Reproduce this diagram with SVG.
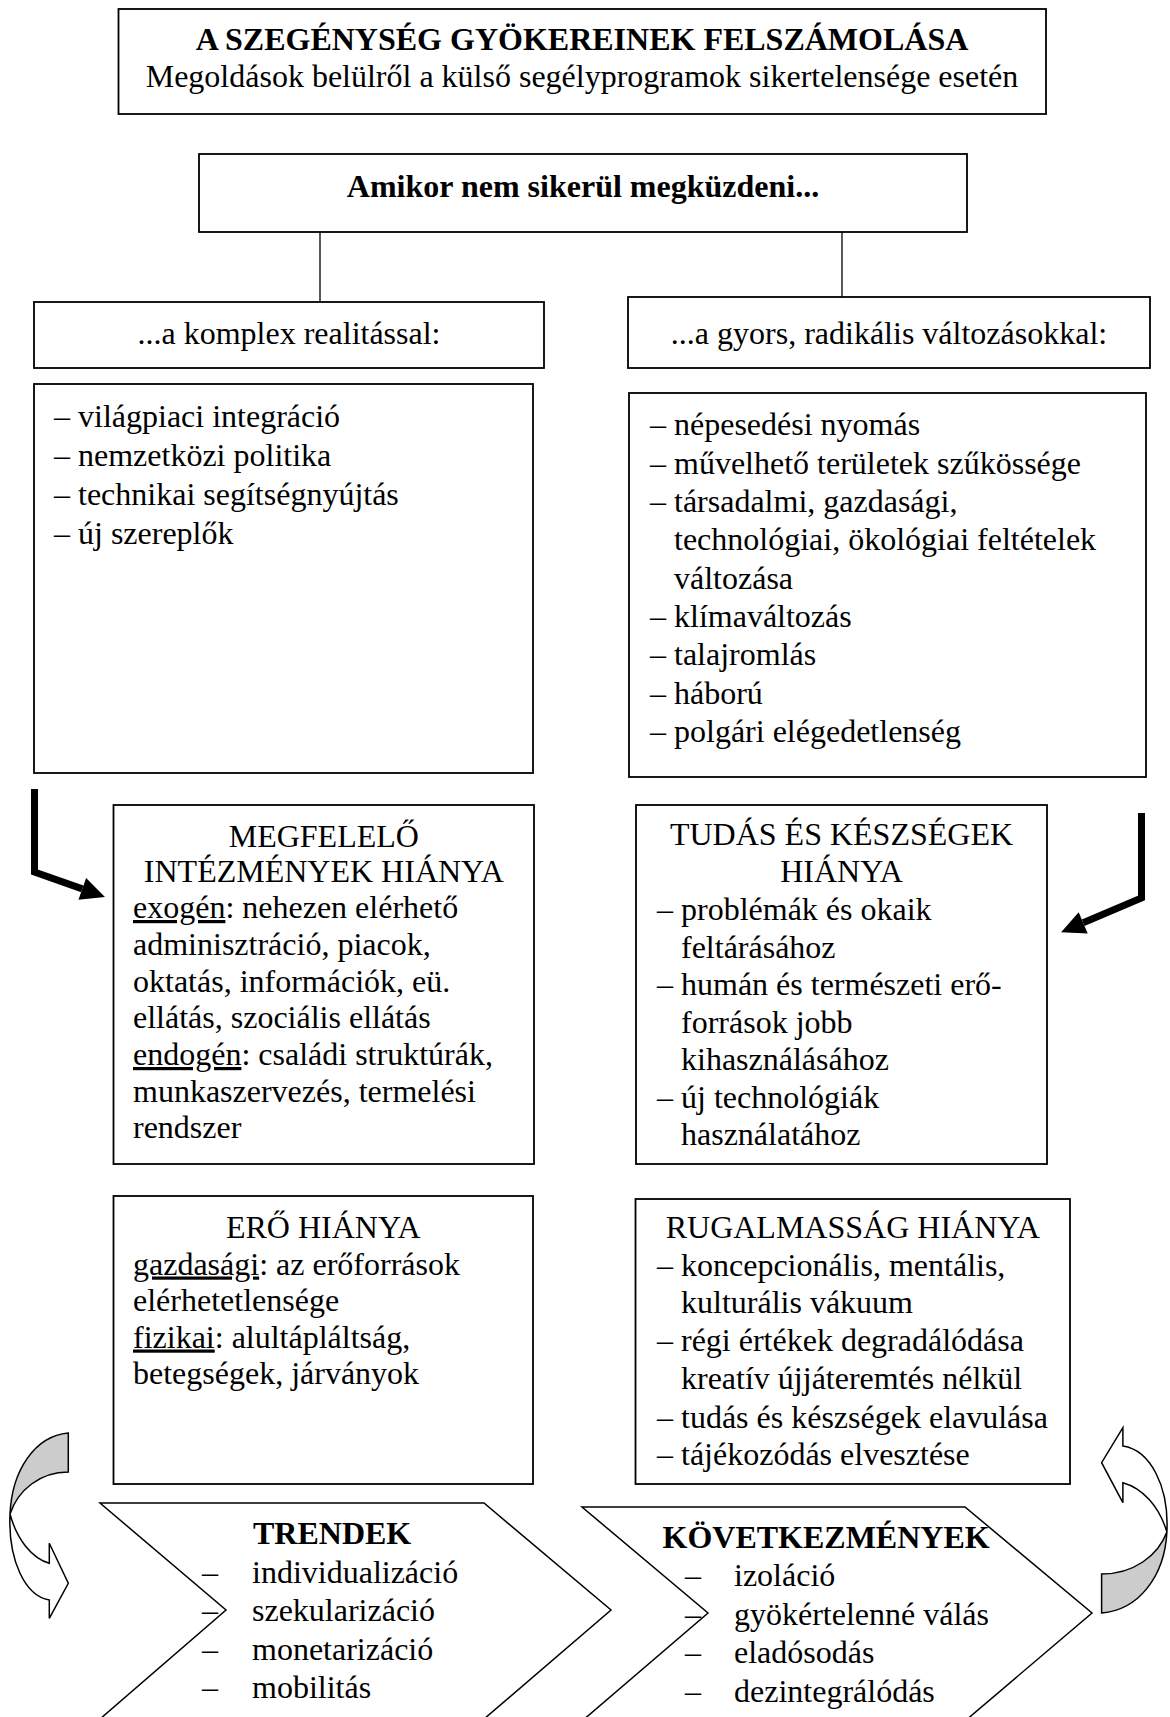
<svg xmlns="http://www.w3.org/2000/svg" xmlns:xlink="http://www.w3.org/1999/xlink" width="1170" height="1717" viewBox="0 0 1170 1717">
<style>
.t{font-family:"Liberation Serif","Times New Roman",serif;font-size:32px;fill:#000}
.b{font-weight:bold}
.c{text-anchor:middle}
.u{text-decoration:underline}
.box{fill:#fff;stroke:#000;stroke-width:1.8}
.chev{fill:#fff;stroke:#000;stroke-width:1.5}
.thin{stroke:#000;stroke-width:1.3;fill:none}
.bent{stroke:#000;stroke-width:7;fill:none;stroke-linejoin:miter;marker-end:url(#ah)}
.ca{stroke:#000;stroke-width:1.5;vector-effect:non-scaling-stroke}
</style>
<defs>
<marker id="ah" markerUnits="userSpaceOnUse" markerWidth="26" markerHeight="24" viewBox="0 0 26 24" refX="0" refY="12" orient="auto" overflow="visible">
<path d="M0,0.5 L24,12 L0,23.5 Z" fill="#000"/>
</marker>
<g id="curvedArrow">
<path class="ca" fill="#cccccc" d="M68.3,1433 C35,1436 12,1470 10,1514 C18,1490 40,1472 68.3,1472 Z"/>
<path class="ca" fill="#ffffff" d="M10,1514 C8,1560 25,1596 49.3,1600 L49.3,1618.3 L68.3,1583.3 L49.3,1543.3 L49.3,1563.3 C32,1558 17,1540 10,1514 Z"/>
</g>
</defs>
<rect width="1170" height="1717" fill="#fff"/>

<g id="connectors">
<line class="thin" x1="320" y1="232" x2="320" y2="302"/>
<line class="thin" x1="842" y1="232" x2="842" y2="297"/>
<path class="bent" d="M34.5,789 V872 L82.3,888.9"/>
<path class="bent" d="M1141.5,813 V898 L1083.2,922.8"/>
<use id="loop-left" xlink:href="#curvedArrow" href="#curvedArrow"/>
<use id="loop-right" xlink:href="#curvedArrow" href="#curvedArrow" transform="matrix(-1.12 0 0 -1 1178.1 3046)"/>
</g>

<g id="title">
<rect class="box" x="118.5" y="9" width="927.5" height="105"/>
<text class="t b c" x="582" y="50">A SZEGÉNYSÉG GYÖKEREINEK FELSZÁMOLÁSA</text>
<text class="t c" x="582" y="87">Megoldások belülről a külső segélyprogramok sikertelensége esetén</text>
</g>

<g id="amikor">
<rect class="box" x="199" y="154" width="768" height="78"/>
<text class="t b c" x="583" y="197">Amikor nem sikerül megküzdeni...</text>
</g>

<g id="komplex">
<rect class="box" x="34" y="302" width="510" height="66"/>
<text class="t c" x="289" y="344">...a komplex realitással:</text>
</g>

<g id="gyors">
<rect class="box" x="628" y="297" width="522" height="71"/>
<text class="t c" x="889" y="344">...a gyors, radikális változásokkal:</text>
</g>

<g id="komplex-lista">
<rect class="box" x="34" y="384" width="499" height="389"/>
<text class="t" x="54" y="427">– világpiaci integráció</text>
<text class="t" x="54" y="466">– nemzetközi politika</text>
<text class="t" x="54" y="505">– technikai segítségnyújtás</text>
<text class="t" x="54" y="543.5">– új szereplők</text>
</g>

<g id="gyors-lista">
<rect class="box" x="629" y="393" width="517" height="384"/>
<text class="t" x="650" y="435">– népesedési nyomás</text>
<text class="t" x="650" y="473.5">– művelhető területek szűkössége</text>
<text class="t" x="650" y="512">– társadalmi, gazdasági,</text>
<text class="t" x="674" y="550">technológiai, ökológiai feltételek</text>
<text class="t" x="674" y="588.5">változása</text>
<text class="t" x="650" y="627">– klímaváltozás</text>
<text class="t" x="650" y="665">– talajromlás</text>
<text class="t" x="650" y="703.5">– háború</text>
<text class="t" x="650" y="742">– polgári elégedetlenség</text>
</g>

<g id="intezmenyek">
<rect class="box" x="113.5" y="805" width="420.5" height="359"/>
<text class="t c" x="323.8" y="847">MEGFELELŐ</text>
<text class="t c" x="323.8" y="882">INTÉZMÉNYEK HIÁNYA</text>
<text class="t" x="133" y="918"><tspan class="u">exogén</tspan>: nehezen elérhető</text>
<text class="t" x="133" y="955">adminisztráció, piacok,</text>
<text class="t" x="133" y="992">oktatás, információk, eü.</text>
<text class="t" x="133" y="1028">ellátás, szociális ellátás</text>
<text class="t" x="133" y="1065"><tspan class="u">endogén</tspan>: családi struktúrák,</text>
<text class="t" x="133" y="1101.5">munkaszervezés, termelési</text>
<text class="t" x="133" y="1138">rendszer</text>
</g>

<g id="tudas">
<rect class="box" x="636" y="805" width="411" height="359"/>
<text class="t c" x="841.5" y="845">TUDÁS ÉS KÉSZSÉGEK</text>
<text class="t c" x="841.5" y="882">HIÁNYA</text>
<text class="t" x="657" y="920">– problémák és okaik</text>
<text class="t" x="681" y="957.5">feltárásához</text>
<text class="t" x="657" y="995">– humán és természeti erő-</text>
<text class="t" x="681" y="1032.5">források jobb</text>
<text class="t" x="681" y="1070">kihasználásához</text>
<text class="t" x="657" y="1107.5">– új technológiák</text>
<text class="t" x="681" y="1145">használatához</text>
</g>

<g id="ero">
<rect class="box" x="113.5" y="1196" width="419.5" height="288"/>
<text class="t c" x="323.3" y="1238">ERŐ HIÁNYA</text>
<text class="t" x="133" y="1274.5"><tspan class="u">gazdasági</tspan>: az erőforrások</text>
<text class="t" x="133" y="1311">elérhetetlensége</text>
<text class="t" x="133" y="1347.5"><tspan class="u">fizikai</tspan>: alultápláltság,</text>
<text class="t" x="133" y="1384">betegségek, járványok</text>
</g>

<g id="rugalmassag">
<rect class="box" x="635.5" y="1199" width="434.5" height="285"/>
<text class="t c" x="852.8" y="1238">RUGALMASSÁG HIÁNYA</text>
<text class="t" x="657" y="1276">– koncepcionális, mentális,</text>
<text class="t" x="681" y="1313">kulturális vákuum</text>
<text class="t" x="657" y="1351">– régi értékek degradálódása</text>
<text class="t" x="681" y="1389">kreatív újjáteremtés nélkül</text>
<text class="t" x="657" y="1427.5">– tudás és készségek elavulása</text>
<text class="t" x="657" y="1465">– tájékozódás elvesztése</text>
</g>

<g id="trendek">
<polygon class="chev" points="100,1503 484,1503 611,1610 484,1719 100,1719 226,1610"/>
<text class="t b" x="253" y="1544">TRENDEK</text>
<text class="t" y="1582.5"><tspan x="202">–</tspan><tspan x="252">individualizáció</tspan></text>
<text class="t" y="1621"><tspan x="202">–</tspan><tspan x="252">szekularizáció</tspan></text>
<text class="t" y="1659.5"><tspan x="202">–</tspan><tspan x="252">monetarizáció</tspan></text>
<text class="t" y="1698"><tspan x="202">–</tspan><tspan x="252">mobilitás</tspan></text>
</g>

<g id="kovetkezmenyek">
<polygon class="chev" points="582,1507 965,1507 1092,1613 965,1721 582,1721 708,1613"/>
<text class="t b" x="662.5" y="1548">KÖVETKEZMÉNYEK</text>
<text class="t" y="1586"><tspan x="685">–</tspan><tspan x="734">izoláció</tspan></text>
<text class="t" y="1624.5"><tspan x="685">–</tspan><tspan x="734">gyökértelenné válás</tspan></text>
<text class="t" y="1663"><tspan x="685">–</tspan><tspan x="734">eladósodás</tspan></text>
<text class="t" y="1701.5"><tspan x="685">–</tspan><tspan x="734">dezintegrálódás</tspan></text>
</g>
</svg>
